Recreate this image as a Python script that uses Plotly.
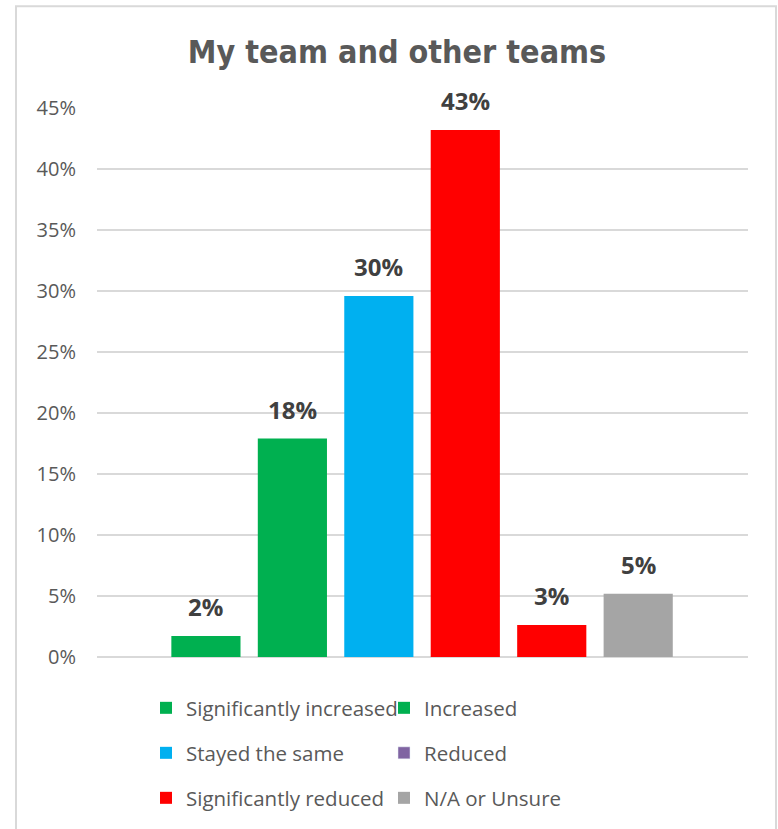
import plotly.graph_objects as go

# Survey responses: share of respondents per answer
categories = [
    "Significantly increased",
    "Increased",
    "Stayed the same",
    "Reduced",
    "Significantly reduced",
    "N/A or Unsure",
]
shares = [0.0172, 0.179, 0.296, 0.432, 0.0262, 0.0518]
bar_colors = ["#00B050", "#00B050", "#00B0F0", "#FF0000", "#FF0000", "#A5A5A5"]
legend_colors = ["#00B050", "#00B050", "#00B0F0", "#8064A2", "#FF0000", "#A5A5A5"]
y_ticks = [0, 0.05, 0.10, 0.15, 0.20, 0.25, 0.30, 0.35, 0.40, 0.45]
title_text = "My team and other teams"

W, H = 778, 829
PL, PR, PT, PB = 97, 30, 108, 171
PW, PH = W - PL - PR, H - PT - PB


def px_x(x):
    return (x - PL) / PW


def px_y(y):
    return (H - PB - y) / PH


# legend rows: two entries per row
legend_of = ["legend", "legend", "legend2", "legend2", "legend3", "legend3"]

fig = go.Figure()
for i, (cat, val) in enumerate(zip(categories, shares)):
    same = bar_colors[i] == legend_colors[i]
    fig.add_trace(go.Bar(
        x=[cat], y=[val], name=cat,
        marker=dict(color=bar_colors[i], line=dict(width=0)),
        showlegend=same, legend=legend_of[i],
        hoverinfo="skip",
    ))
    if not same:
        # legend swatch uses the series colour
        fig.add_trace(go.Bar(
            x=[None], y=[None], name=cat,
            marker=dict(color=legend_colors[i]),
            showlegend=True, legend=legend_of[i],
        ))
    fig.add_annotation(
        x=cat, y=val, text=f"{val:.0%}", showarrow=False,
        yanchor="bottom", yshift=11,
        font=dict(family="Open Sans", size=24, color="#404040", weight="bold"),
    )

legend_font = dict(family="Open Sans", size=20.5, color="#595959")
legend_common = dict(
    orientation="h", xanchor="left", yanchor="middle",
    entrywidth=193, entrywidthmode="pixels",
    bgcolor="rgba(0,0,0,0)", borderwidth=0, font=legend_font,
    itemclick=False, itemdoubleclick=False, traceorder="normal",
)
row_y = [708, 753, 798]
leg_x = px_x(146)

fig.update_layout(
    width=W, height=H,
    margin=dict(l=PL, r=PR, t=PT, b=PB, pad=0),
    paper_bgcolor="white", plot_bgcolor="white",
    barmode="overlay", bargap=0.2,
    showlegend=True,
    title=dict(
        text=f"<b>{title_text}</b>", x=397 / W, xref="container", xanchor="center",
        y=1 - 52 / H, yref="container", yanchor="middle",
        font=dict(family="DejaVu Sans Condensed, Liberation Sans Narrow, sans-serif",
                  size=32, color="#595959"),
    ),
    xaxis=dict(
        type="category", categoryorder="array", categoryarray=categories,
        range=[-1.26, len(categories) - 1 + 1.27],
        showticklabels=False, showgrid=False, zeroline=False, showline=False,
        ticks="",
    ),
    yaxis=dict(
        range=[0, 0.45], tickvals=y_ticks, tickformat=".0%",
        showgrid=True, gridcolor="#D9D9D9", gridwidth=1.5,
        zeroline=True, zerolinecolor="#D9D9D9", zerolinewidth=1.5,
        showline=False, ticks="", ticklabelstandoff=20,
        tickfont=dict(family="Open Sans", size=20, color="#595959"),
    ),
    legend=dict(x=leg_x, y=px_y(row_y[0]), **legend_common),
    legend2=dict(x=leg_x, y=px_y(row_y[1]), **legend_common),
    legend3=dict(x=leg_x, y=px_y(row_y[2]), **legend_common),
    shapes=[dict(
        type="rect", xref="paper", yref="paper", layer="below",
        x0=px_x(16), x1=px_x(776), y0=px_y(840), y1=px_y(6),
        line=dict(color="#D9D9D9", width=2), fillcolor="rgba(0,0,0,0)",
    )],
)

fig.write_html("out.html")
